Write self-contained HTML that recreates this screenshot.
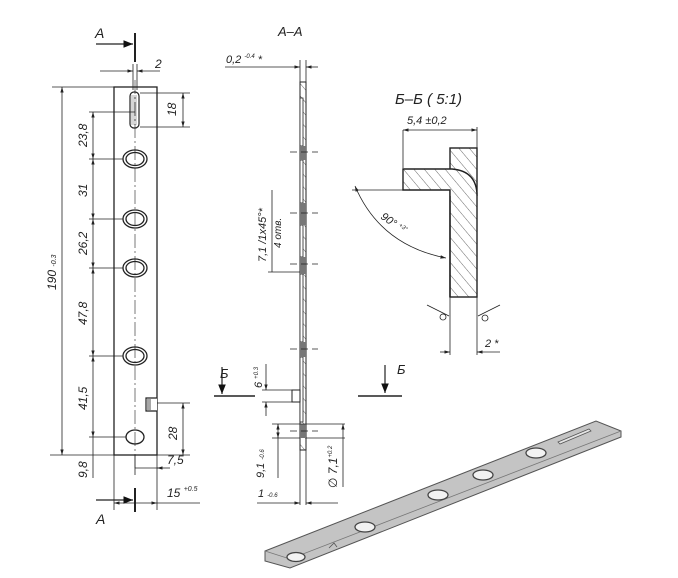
<!DOCTYPE html>
<html><head><meta charset="utf-8"><style>
html,body{margin:0;padding:0;background:#fff;}
svg{display:block;}
text{font-family:"Liberation Sans","DejaVu Sans",sans-serif;font-style:italic;fill:#222;}
</style></head><body>
<svg width="678" height="578" viewBox="0 0 678 578" xmlns="http://www.w3.org/2000/svg">
<defs>
<marker id="ar" viewBox="0 0 10 10" refX="10" refY="5" markerWidth="7" markerHeight="7" orient="auto-start-reverse"><path d="M0,2 L10,5 L0,8 z" fill="#222"/></marker>
<marker id="big" viewBox="0 0 10 10" refX="10" refY="5" markerWidth="8" markerHeight="8" orient="auto"><path d="M0,1 L10,5 L0,9 z" fill="#111"/></marker>
<pattern id="hatch" width="8" height="8" patternUnits="userSpaceOnUse" patternTransform="rotate(-40)"><line x1="0" y1="0" x2="0" y2="8" stroke="#444" stroke-width="0.8"/></pattern>
</defs>
<g stroke="#222" stroke-width="0.8" fill="none">
<text x="95" y="38" font-size="14" stroke="none">A</text>
<line x1="135" y1="33" x2="135" y2="62" stroke-width="2"/>
<line x1="96" y1="44" x2="133" y2="44" marker-end="url(#big)" stroke-width="1.2"/>
<line x1="133" y1="64" x2="133" y2="90"/><line x1="137" y1="64" x2="137" y2="90"/>
<line x1="100" y1="71" x2="133" y2="71" marker-end="url(#ar)"/><line x1="160" y1="71" x2="137" y2="71" marker-end="url(#ar)"/>
<text x="155" y="68" font-size="12" stroke="none">2</text>
<rect x="114" y="87" width="43" height="368" stroke-width="1.3"/>
<line x1="135" y1="80" x2="135" y2="470" stroke-dasharray="14,3,2,3" stroke-width="0.6"/>
<rect x="130" y="92" width="9" height="36" rx="4" stroke-width="1.2"/>
<line x1="132" y1="95" x2="132" y2="125" stroke="#999"/><line x1="134" y1="95" x2="134" y2="125" stroke="#999"/><line x1="136" y1="95" x2="136" y2="125" stroke="#999"/>
<line x1="140" y1="93" x2="190" y2="93"/><line x1="140" y1="127" x2="190" y2="127"/>
<line x1="183" y1="93" x2="183" y2="127" marker-start="url(#ar)" marker-end="url(#ar)"/>
<text font-size="12" stroke="none" transform="translate(176,116) rotate(-90)">18</text>
<g stroke-width="1.3">
<ellipse cx="135" cy="159" rx="12" ry="9"/><ellipse cx="135" cy="159" rx="9" ry="6.5"/>
<ellipse cx="135" cy="219" rx="12" ry="9"/><ellipse cx="135" cy="219" rx="9" ry="6.5"/>
<ellipse cx="135" cy="268" rx="12" ry="9"/><ellipse cx="135" cy="268" rx="9" ry="6.5"/>
<ellipse cx="135" cy="356" rx="12" ry="9"/><ellipse cx="135" cy="356" rx="9" ry="6.5"/>
<ellipse cx="135" cy="437" rx="9" ry="7"/>
</g>
<path d="M157,398 L146,398 L146,411 L157,411" fill="#fff" stroke-width="1.2"/>
<line x1="148" y1="399" x2="148" y2="410"/><line x1="150" y1="399" x2="150" y2="410"/>
<line x1="157" y1="403" x2="190" y2="403"/>
<line x1="183" y1="403" x2="183" y2="455" marker-start="url(#ar)" marker-end="url(#ar)"/>
<text font-size="12" stroke="none" transform="translate(177,440) rotate(-90)">28</text>
<line x1="52" y1="87" x2="114" y2="87"/><line x1="50" y1="455" x2="190" y2="455"/>
<line x1="62" y1="87" x2="62" y2="455" marker-start="url(#ar)" marker-end="url(#ar)"/>
<text font-size="12" stroke="none" transform="translate(56,290) rotate(-90)">190 <tspan font-size="7">-0.3</tspan></text>
<line x1="89" y1="112" x2="135" y2="112"/>
<line x1="89" y1="159" x2="123" y2="159"/><line x1="89" y1="219" x2="123" y2="219"/><line x1="89" y1="268" x2="123" y2="268"/><line x1="89" y1="356" x2="123" y2="356"/><line x1="89" y1="437" x2="126" y2="437"/>
<line x1="93" y1="112" x2="93" y2="159" marker-start="url(#ar)" marker-end="url(#ar)"/>
<line x1="93" y1="159" x2="93" y2="219" marker-start="url(#ar)" marker-end="url(#ar)"/>
<line x1="93" y1="219" x2="93" y2="268" marker-start="url(#ar)" marker-end="url(#ar)"/>
<line x1="93" y1="268" x2="93" y2="356" marker-start="url(#ar)" marker-end="url(#ar)"/>
<line x1="93" y1="356" x2="93" y2="437" marker-start="url(#ar)" marker-end="url(#ar)"/>
<line x1="93" y1="437" x2="93" y2="478"/>
<g font-size="12" stroke="none">
<text transform="translate(87,147) rotate(-90)">23,8</text>
<text transform="translate(87,197) rotate(-90)">31</text>
<text transform="translate(87,255) rotate(-90)">26,2</text>
<text transform="translate(87,325) rotate(-90)">47,8</text>
<text transform="translate(87,410) rotate(-90)">41,5</text>
<text transform="translate(87,478) rotate(-90)">9,8</text>
</g>
<line x1="114" y1="455" x2="114" y2="510"/><line x1="157" y1="455" x2="157" y2="510"/><line x1="135" y1="455" x2="135" y2="475"/>
<line x1="135" y1="468" x2="160" y2="468"/><line x1="170" y1="468" x2="157" y2="468" marker-end="url(#ar)"/>
<text x="167" y="464" font-size="12" stroke="none">7,5</text>
<line x1="114" y1="503" x2="157" y2="503" marker-start="url(#ar)" marker-end="url(#ar)"/><line x1="157" y1="503" x2="200" y2="503"/>
<text x="167" y="497" font-size="12" stroke="none">15 <tspan font-size="7" dy="-6">+0.5</tspan></text>
<line x1="135" y1="488" x2="135" y2="512" stroke-width="2"/>
<line x1="96" y1="500" x2="133" y2="500" marker-end="url(#big)" stroke-width="1.2"/>
<text x="96" y="524" font-size="14" stroke="none">A</text>

<text x="278" y="36" font-size="13" stroke="none">A–A</text>
<text x="226" y="63" font-size="11" stroke="none">0,2 <tspan font-size="6" dy="-5">-0.4</tspan><tspan dy="5"> *</tspan></text>
<line x1="225" y1="67" x2="300" y2="67" marker-end="url(#ar)"/><line x1="318" y1="67" x2="306" y2="67" marker-end="url(#ar)"/>
<line x1="300" y1="60" x2="300" y2="82"/><line x1="306" y1="60" x2="306" y2="82"/>
<rect x="300" y="82" width="6" height="368" fill="url(#hatch)" stroke-width="1"/>
<g fill="#fff">
<rect x="300" y="98" width="3" height="48"/><rect x="300" y="160" width="3" height="43"/><rect x="300" y="225" width="3" height="32"/><rect x="300" y="274" width="3" height="68"/><rect x="300" y="357" width="3" height="65"/>
</g>
<g fill="#777" stroke="none">
<rect x="300" y="146" width="6" height="14"/><rect x="300" y="203" width="6" height="22"/><rect x="300" y="257" width="6" height="17"/><rect x="300" y="342" width="6" height="15"/><rect x="300" y="424" width="6" height="14"/>
</g>
<g stroke-dasharray="7,4" stroke-width="0.7">
<line x1="290" y1="152" x2="318" y2="152"/><line x1="290" y1="213" x2="318" y2="213"/><line x1="290" y1="264" x2="318" y2="264"/><line x1="290" y1="349" x2="318" y2="349"/><line x1="290" y1="431" x2="318" y2="431"/>
</g>
<line x1="300" y1="450" x2="300" y2="505"/><line x1="306" y1="450" x2="306" y2="505"/>
<line x1="272" y1="190" x2="272" y2="272"/><line x1="268" y1="272" x2="300" y2="272"/>
<text font-size="11" stroke="none" transform="translate(266,262) rotate(-90)">7,1 /1x45°*</text>
<text font-size="10" stroke="none" transform="translate(281,248) rotate(-90)">4 отв.</text>
<text x="220" y="378" font-size="13" stroke="none">Б</text>
<line x1="222" y1="367" x2="222" y2="394" marker-end="url(#big)" stroke-width="1.2"/>
<line x1="214" y1="396" x2="255" y2="396" stroke-width="1.4"/>
<text x="397" y="374" font-size="13" stroke="none">Б</text>
<line x1="385" y1="365" x2="385" y2="393" marker-end="url(#big)" stroke-width="1.2"/>
<line x1="358" y1="396" x2="402" y2="396" stroke-width="1.4"/>
<rect x="292" y="390" width="8" height="12" fill="#fff" stroke-width="1"/>
<line x1="262" y1="390" x2="292" y2="390"/><line x1="262" y1="402" x2="292" y2="402"/>
<line x1="266" y1="364" x2="266" y2="390" marker-end="url(#ar)"/><line x1="266" y1="416" x2="266" y2="402" marker-end="url(#ar)"/>
<text font-size="11" stroke="none" transform="translate(262,388) rotate(-90)">6 <tspan font-size="6" dy="-4">+0.3</tspan></text>
<line x1="272" y1="424" x2="345" y2="424"/><line x1="272" y1="438" x2="300" y2="438"/><line x1="306" y1="438" x2="345" y2="438"/>
<line x1="278" y1="424" x2="278" y2="478"/>
<line x1="278" y1="430" x2="278" y2="424" marker-end="url(#ar)"/><line x1="278" y1="432" x2="278" y2="438" marker-end="url(#ar)"/>
<line x1="343" y1="424" x2="343" y2="487" marker-start="url(#ar)"/>
<text font-size="11" stroke="none" transform="translate(264,478) rotate(-90)">9,1 <tspan font-size="6">-0.6</tspan></text>
<text font-size="12" stroke="none" transform="translate(337,488) rotate(-90)">∅ 7,1<tspan font-size="6" dy="-5">+0.2</tspan></text>
<line x1="257" y1="503" x2="300" y2="503" marker-end="url(#ar)"/><line x1="338" y1="503" x2="306" y2="503" marker-end="url(#ar)"/>
<text x="258" y="497" font-size="11" stroke="none">1 <tspan font-size="6">-0.6</tspan></text>

<text x="395" y="104" font-size="15" stroke="none">Б–Б ( 5:1)</text>
<text x="407" y="124" font-size="11" stroke="none">5,4  ±0,2</text>
<line x1="403" y1="130" x2="403" y2="168"/><line x1="477" y1="127" x2="477" y2="148"/>
<line x1="403" y1="130" x2="477" y2="130" marker-start="url(#ar)" marker-end="url(#ar)"/>
<rect x="450" y="148" width="27" height="149" fill="url(#hatch)" stroke-width="1.4"/>
<path d="M450,190 L403,190 L403,169 L450,169 Q477,170 477,196 L450,196 Z" fill="#fff" stroke="none"/>
<path d="M450,190 L403,190 L403,169 L450,169 Q477,170 477,196 L450,196 Z" fill="url(#hatch)" stroke="none"/>
<path d="M450,297 L450,190 L403,190 L403,169 L452,169 Q477,171 477,196" stroke-width="1.4"/>
<line x1="352" y1="190" x2="403" y2="190"/>
<path d="M355,186 Q380,245 446,258" marker-start="url(#ar)" marker-end="url(#ar)"/>
<text font-size="11" stroke="none" transform="translate(380,218) rotate(35)">90° <tspan font-size="6" dy="-4">+3°</tspan></text>
<line x1="450" y1="297" x2="450" y2="355"/><line x1="477" y1="297" x2="477" y2="355"/>
<line x1="440" y1="352" x2="450" y2="352" marker-end="url(#ar)"/><line x1="500" y1="352" x2="477" y2="352" marker-end="url(#ar)"/>
<text x="485" y="347" font-size="11" stroke="none">2 *</text>
<line x1="427" y1="305" x2="449" y2="316"/><circle cx="443" cy="317" r="3"/>
<line x1="478" y1="316" x2="500" y2="305"/><circle cx="485" cy="318" r="3"/>

<path d="M265,551 L596,421 L621,431 L621,437 L290,568 L265,561 Z" fill="#c4c4c4" stroke="#555" stroke-width="1"/>
<path d="M265,551 L290,559 L621,431" stroke="#777" stroke-width="0.8"/>
<path d="M329,548 L334,543 L337,547" stroke="#555"/>
<g fill="#f2f2f2" stroke="#444" stroke-width="1.3">
<ellipse cx="296" cy="557" rx="9" ry="4.5"/><ellipse cx="365" cy="527" rx="10" ry="5"/><ellipse cx="438" cy="495" rx="10" ry="5"/><ellipse cx="483" cy="475" rx="10" ry="5"/><ellipse cx="536" cy="453" rx="10" ry="5"/>
</g>
<path d="M558,442 L589,429 L591,431 L560,444 Z" fill="#e5e5e5" stroke="#555"/>
</g>
</svg>
</body></html>
